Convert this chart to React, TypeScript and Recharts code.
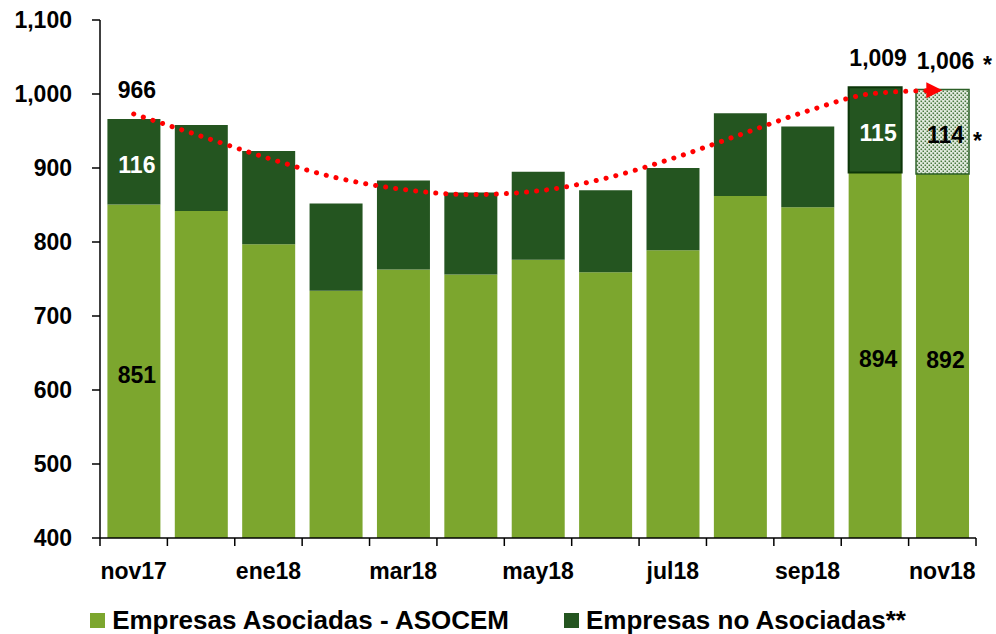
import React from 'react';
import { ComposedChart, Bar, Line, XAxis, YAxis, Legend, LabelList, Cell } from 'recharts';

const months = ['nov17', 'dic17', 'ene18', 'feb18', 'mar18', 'abr18', 'may18', 'jun18', 'jul18', 'ago18', 'sep18', 'oct18', 'nov18'];
const asociadas = [850.6, 842, 797, 734, 763, 756, 776, 759, 789, 862, 847, 894, 892];
const noAsociadas = [115.6, 116, 126, 118, 120, 111, 119, 111, 111, 112, 109, 115, 114];
const tendencia = [973, 943, 913, 887, 871, 864, 869, 886, 913, 945, 977, 1001, 1005];
const yTicks = [400, 500, 600, 700, 800, 900, 1000, 1100];
const labeledIdx = [0, 11, 12];
const highlightIdx = 11;
const preliminaryIdx = 12;
const legendItems = [
  { label: 'Empresas Asociadas - ASOCEM', key: 'asoc' },
  { label: 'Empresas no Asociadas**', key: 'noAsoc' },
];

const data = months.map((mes, i) => ({
  mes,
  asoc: asociadas[i],
  noAsoc: noAsociadas[i],
  trend: tendencia[i],
}));

// layout
const W = 996;
const H = 634;
const MARGIN = { top: 20, right: 20, bottom: 0, left: 0 };
const Y_AXIS_W = 100;
const X_AXIS_H = 52;
const LEGEND_H = 44;
const PLOT_BOTTOM = H - MARGIN.bottom - X_AXIS_H - LEGEND_H;
const PLOT_W = W - MARGIN.left - MARGIN.right - Y_AXIS_W;
const HALF_BAND = PLOT_W / months.length / 2;

const LIGHT = '#7ca62e';
const DARK = '#245520';
const FONT = '"Liberation Sans", Arial, sans-serif';
const txt = { fontFamily: FONT, fontSize: 23, fontWeight: 'bold' as const };

const fmt = (v: number) => Math.round(v).toLocaleString('en-US');

const box = (p: any) => {
  const vb = p.viewBox && p.viewBox.width !== undefined ? p.viewBox : p;
  return { x: Number(vb.x), y: Number(vb.y), width: Number(vb.width), height: Number(vb.height) };
};

function AsocLabel(p: any) {
  const i = p.index;
  if (!labeledIdx.includes(i)) return null;
  const { x, y, width } = box(p);
  const cy = (y + PLOT_BOTTOM) / 2;
  return (
    <text x={x + width / 2 + 3} y={cy + 12} textAnchor="middle" fill="#000" style={txt}>
      {fmt(asociadas[i])}
    </text>
  );
}

function NoAsocLabel(p: any) {
  const i = p.index;
  if (!labeledIdx.includes(i)) return null;
  const { x, y, width, height } = box(p);
  const cx = x + width / 2 + 3;
  const base = y + height / 2 + 11;
  const prelim = i === preliminaryIdx;
  return (
    <g>
      <text x={cx} y={base} textAnchor="middle" fill={prelim ? '#000' : '#fff'} style={txt}>
        {fmt(noAsociadas[i])}
      </text>
      {prelim && (
        <text x={cx + 32} y={base + 6} textAnchor="middle" fill="#000" style={txt}>*</text>
      )}
    </g>
  );
}

function TotalLabel(p: any) {
  const i = p.index;
  if (!labeledIdx.includes(i)) return null;
  const { x, y, width } = box(p);
  const cx = x + width / 2 + 3;
  const base = y - 21;
  return (
    <g>
      <text x={cx} y={base} textAnchor="middle" fill="#000" style={txt}>
        {fmt(asociadas[i] + noAsociadas[i])}
      </text>
      {i === preliminaryIdx && (
        <text x={cx + 42} y={base + 4} textAnchor="middle" fill="#000" style={txt}>*</text>
      )}
    </g>
  );
}

function MonthTick(props: any) {
  const { x, y, payload } = props;
  const i = payload?.index ?? props.index;
  return (
    <g>
      <line x1={x - HALF_BAND} x2={x - HALF_BAND} y1={y} y2={y + 8} stroke="#000" strokeWidth={1.5} />
      {i === months.length - 1 && (
        <line x1={x + HALF_BAND} x2={x + HALF_BAND} y1={y} y2={y + 8} stroke="#000" strokeWidth={1.5} />
      )}
      {i % 2 === 0 && (
        <text x={x} y={y + 41} textAnchor="middle" fill="#000" style={txt}>
          {payload.value}
        </text>
      )}
    </g>
  );
}

function ArrowDot(p: any) {
  if (p.index !== months.length - 1) return <g key={`d${p.index}`} />;
  const { cx, cy } = p;
  return (
    <polygon
      key="arrow"
      points={`${cx},${cy} ${cx - 16},${cy - 8} ${cx - 16},${cy + 8}`}
      fill="#ff0000"
    />
  );
}

function LegendBox() {
  const colors: Record<string, string> = { asoc: LIGHT, noAsoc: DARK };
  return (
    <div
      style={{
        height: LEGEND_H,
        boxSizing: 'border-box',
        paddingTop: 16,
        display: 'flex',
        justifyContent: 'center',
        alignItems: 'center',
        gap: 55,
        fontFamily: FONT,
        fontSize: 26,
        fontWeight: 'bold',
        color: '#000',
      }}
    >
      {legendItems.map((it) => (
        <div key={it.key} style={{ display: 'flex', alignItems: 'center' }}>
          <span style={{ width: 15, height: 15, background: colors[it.key], marginRight: 7, display: 'inline-block' }} />
          <span>{it.label}</span>
        </div>
      ))}
    </div>
  );
}

export default function App() {
  return (
    <div style={{ position: 'absolute', left: 0, top: 0, background: '#fff' }}>
      <ComposedChart width={W} height={H} data={data} margin={MARGIN} barCategoryGap="11%">
        <defs>
          <pattern id="prelim" width={4} height={4} patternUnits="userSpaceOnUse">
            <rect width={4} height={4} fill="#e4ece1" />
            <rect x={0.5} y={0.5} width={1.6} height={1.6} fill="#4a7842" />
            <rect x={2.5} y={2.5} width={1.6} height={1.6} fill="#4a7842" />
          </pattern>
        </defs>
        <XAxis
          dataKey="mes"
          height={X_AXIS_H}
          interval={0}
          tickSize={0}
          tickMargin={0}
          tickLine={false}
          axisLine={{ stroke: '#000', strokeWidth: 1.5 }}
          tick={(p: any) => <MonthTick {...p} />}
        />
        <YAxis
          width={Y_AXIS_W}
          domain={[400, 1100]}
          ticks={yTicks}
          allowDataOverflow
          tickFormatter={fmt}
          tickSize={8}
          tickMargin={20}
          axisLine={{ stroke: '#000', strokeWidth: 1.5 }}
          tickLine={{ stroke: '#000', strokeWidth: 1.5 }}
          tick={{ fill: '#000', fontSize: 23, fontWeight: 'bold', fontFamily: FONT }}
        />
        <Legend verticalAlign="bottom" wrapperStyle={{ left: 0, width: W, bottom: 0, height: LEGEND_H }} content={() => <LegendBox />} />
        <Bar dataKey="asoc" stackId="a" fill={LIGHT} isAnimationActive={false}>
          <LabelList dataKey="asoc" content={AsocLabel} />
        </Bar>
        <Bar dataKey="noAsoc" stackId="a" fill={DARK} isAnimationActive={false}>
          {data.map((_, i) => (
            <Cell
              key={i}
              fill={i === preliminaryIdx ? 'url(#prelim)' : DARK}
              stroke={i === highlightIdx ? '#0c3609' : i === preliminaryIdx ? '#2c5f27' : 'none'}
              strokeWidth={i === highlightIdx ? 2 : 1.5}
            />
          ))}
          <LabelList dataKey="noAsoc" content={NoAsocLabel} />
          <LabelList dataKey="noAsoc" content={TotalLabel} />
        </Bar>
        <Line
          dataKey="trend"
          type="monotone"
          stroke="#ff0000"
          strokeWidth={5}
          strokeDasharray="0.1 10"
          strokeLinecap="round"
          dot={ArrowDot}
          activeDot={false}
          legendType="none"
          isAnimationActive={false}
        />
      </ComposedChart>
    </div>
  );
}
